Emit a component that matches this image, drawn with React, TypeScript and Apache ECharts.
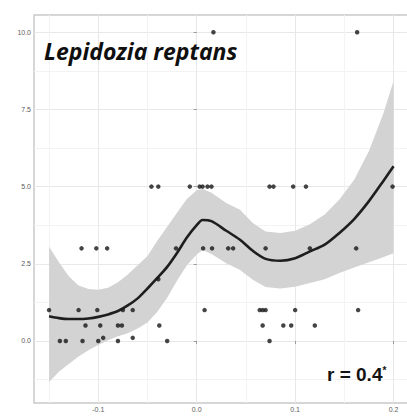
import React, { useEffect, useRef } from "react";
import * as echarts from "echarts";

// Axis ticks
const xTicks = [-0.1, 0.0, 0.1, 0.2];
const xMinorTicks = [-0.15, -0.05, 0.05, 0.15];
const yTicks = [0, 2.5, 5, 7.5, 10];
const yMinorTicks = [-1.25, 1.25, 3.75, 6.25, 8.75];
const xRange = [-0.1653, 0.2167];
const yRange = [-2.01, 10.56];

// Observations
const pointsX = [
  0.017, 0.163,
  -0.046, -0.039, -0.007, 0.003, 0.006, 0.011, 0.015, 0.074, 0.078, 0.098, 0.111, 0.199,
  -0.117, -0.102, -0.091, -0.021, 0.0065, 0.0156, 0.032, 0.037, 0.07, 0.115, 0.162,
  -0.039,
  -0.15, -0.12, -0.101, -0.075, -0.065, 0.008, 0.064, 0.067, 0.07, 0.1, 0.164,
  -0.113, -0.098, -0.08, -0.076, -0.038, 0.067, 0.088, 0.096, 0.12,
  -0.139, -0.133, -0.116, -0.1, -0.08, -0.03, 0.074,
  -0.095, -0.065,
];
const pointsY = [
  10, 10,
  5, 5, 5, 5, 5, 5, 5, 5, 5, 5, 5, 5,
  3, 3, 3, 3, 3, 3, 3, 3, 3, 3, 3,
  2,
  1, 1, 1, 1, 1, 1, 1, 1, 1, 1, 1,
  0.5, 0.5, 0.5, 0.5, 0.5, 0.5, 0.5, 0.5, 0.5,
  0, 0, 0, 0, 0, 0, 0,
  0.1, 0.1,
];

// Smoothed fit and confidence band
const fitX = [
  -0.15, -0.14, -0.13, -0.12, -0.11, -0.1, -0.09, -0.08, -0.07, -0.06, -0.05, -0.04, -0.03,
  -0.02, -0.01, 0.0, 0.006, 0.015, 0.03, 0.044, 0.057, 0.07, 0.085, 0.1, 0.115, 0.13, 0.145,
  0.16, 0.175, 0.19, 0.2,
];
const fitY = [
  0.8, 0.74, 0.71, 0.71, 0.73, 0.78, 0.86, 0.97, 1.15, 1.38, 1.7, 2.04, 2.4,
  2.85, 3.35, 3.75, 3.92, 3.88, 3.57, 3.28, 2.92, 2.66, 2.6, 2.68, 2.9, 3.12, 3.5,
  3.95, 4.53, 5.2, 5.66,
];
const bandUpper = [
  3.05, 2.55, 2.1, 1.8, 1.68, 1.66, 1.72, 1.9, 2.15, 2.45, 2.75, 3.25, 3.7,
  4.15, 4.6, 4.88, 4.92, 4.8, 4.47, 4.25, 3.82, 3.55, 3.5, 3.57, 3.78, 4.1, 4.58,
  5.22, 6.15, 7.4, 8.42,
];
const bandLower = [
  -1.33, -1.0, -0.75, -0.5, -0.3, -0.13, 0.02, 0.15, 0.25, 0.4, 0.6, 0.95, 1.4,
  1.95, 2.45, 2.8, 2.95, 2.82, 2.52, 2.3, 1.98, 1.75, 1.7, 1.76, 1.88, 2.0, 2.2,
  2.38, 2.55, 2.72, 2.84,
];

const fmt = (v: number) => v.toFixed(1);

export default function App() {
  const ref = useRef<HTMLDivElement>(null);

  useEffect(() => {
    if (!ref.current) return;
    const chart = echarts.init(ref.current, null, { renderer: "svg" });

    const scatterData = pointsX.map((x, i) => [x, pointsY[i]]);
    const fitData = fitX.map((x, i) => [x, fitY[i]]);
    const bandPoly = [
      ...fitX.map((x, i) => [x, bandUpper[i]]),
      ...fitX.map((x, i) => [x, bandLower[i]]).reverse(),
    ];

    const tickLabelStyle = {
      fontSize: 7,
      color: "#5a5a5a",
      fontFamily: "Liberation Sans",
    };

    chart.setOption({
      animation: false,
      backgroundColor: "#ffffff",
      grid: {
        left: 34,
        top: 15,
        width: 376,
        height: 388,
        show: true,
        borderColor: "#c9c9c9",
        borderWidth: 1.5,
        backgroundColor: "transparent",
        outerBoundsMode: "none",
      },
      xAxis: [
        {
          type: "value",
          min: xRange[0],
          max: xRange[1],
          axisLine: { show: false },
          axisTick: { show: true, length: 3, customValues: xTicks, lineStyle: { color: "#9a9a9a" } },
          axisLabel: { ...tickLabelStyle, margin: 3, customValues: xTicks, formatter: fmt },
          splitLine: { show: true, lineStyle: { color: "#e8e8e8", width: 1 } },
        },
        {
          type: "value",
          position: "bottom",
          min: xRange[0],
          max: xRange[1],
          axisLine: { show: false },
          axisTick: { show: false, customValues: xMinorTicks },
          axisLabel: { show: false, customValues: xMinorTicks },
          splitLine: { show: true, lineStyle: { color: "#f3f3f3", width: 1 } },
        },
      ],
      yAxis: [
        {
          type: "value",
          min: yRange[0],
          max: yRange[1],
          axisLine: { show: false },
          axisTick: { show: true, length: 3, customValues: yTicks, lineStyle: { color: "#9a9a9a" } },
          axisLabel: { ...tickLabelStyle, margin: 3, customValues: yTicks, formatter: fmt },
          splitLine: { show: true, lineStyle: { color: "#e8e8e8", width: 1 } },
        },
        {
          type: "value",
          position: "left",
          min: yRange[0],
          max: yRange[1],
          axisLine: { show: false },
          axisTick: { show: false, customValues: yMinorTicks },
          axisLabel: { show: false, customValues: yMinorTicks },
          splitLine: { show: true, lineStyle: { color: "#f3f3f3", width: 1 } },
        },
      ],
      series: [
        {
          type: "custom",
          xAxisIndex: 0,
          yAxisIndex: 0,
          z: 1,
          silent: true,
          data: [[0, 0]],
          renderItem: (params: any, api: any) => {
            const pts = bandPoly.map((p) => api.coord(p));
            return {
              type: "polygon",
              shape: { points: pts },
              style: { fill: "#d3d3d3" },
            };
          },
        },
        {
          type: "line",
          xAxisIndex: 0,
          yAxisIndex: 0,
          z: 3,
          data: fitData,
          smooth: 0.3,
          symbol: "none",
          lineStyle: { color: "#1e1e1e", width: 2.6 },
        },
        {
          type: "scatter",
          xAxisIndex: 0,
          yAxisIndex: 0,
          z: 4,
          data: scatterData,
          symbolSize: 4.5,
          itemStyle: { color: "#161616" },
        },
      ],
      graphic: [
        {
          type: "text",
          left: 44,
          top: 39,
          z: 10,
          style: {
            text: "Lepidozia reptans",
            font: 'italic bold 23px "Open Sans"',
            fill: "#0f0f0f",
          },
        },
        {
          type: "text",
          left: 327,
          top: 365,
          z: 10,
          style: {
            text: "{a|r = 0.4}{s|*}",
            rich: {
              a: { fontSize: 19, fontWeight: "bold", fontFamily: "Liberation Sans", fill: "#141414" },
              s: { fontSize: 10, fontWeight: "bold", fontFamily: "Liberation Sans", fill: "#141414", verticalAlign: "top", padding: [0, 0, 8, 0] },
            },
          },
        },
      ],
    });

    return () => chart.dispose();
  }, []);

  return (
    <div
      ref={ref}
      style={{ position: "fixed", left: 0, top: 0, width: 407, height: 416 }}
    />
  );
}
